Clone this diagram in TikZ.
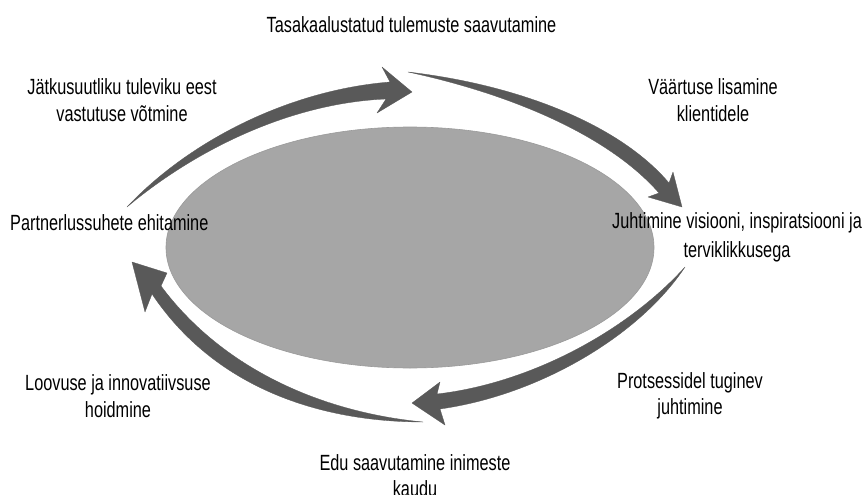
\documentclass[tikz,border=0pt]{standalone}
\usepackage{fontspec}
\setmainfont{Liberation Sans}[FakeStretch=0.74]
\definecolor{arrowgray}{HTML}{595959}
\definecolor{ellgray}{HTML}{A6A6A6}
\definecolor{elledge}{HTML}{9A9A9A}
\begin{document}
\begin{tikzpicture}[x=1pt,y=-1pt,
  lbl/.style={font=\fontsize{22}{26.5}\selectfont, align=center, inner sep=0pt, text=black},
  arr/.style={fill=arrowgray, draw=arrowgray, line width=0.3pt, line join=round}]
\useasboundingbox (0,0) rectangle (868,495);
\fill[white] (0,0) rectangle (868,495);
% central ellipse
\filldraw[fill=ellgray, draw=elledge, line width=0.6pt] (410,247.5) ellipse [x radius=244pt, y radius=120.5pt];
% arrow 1: top-left, heading right
\fill[arr] (127,207) .. controls (190,140) and (290,90) .. (390,82) -- (382,67) -- (412,92) -- (377,113) -- (386,99) .. controls (290,103) and (195,150) .. (127,207) -- cycle;
% arrow 2: top-right, heading down-right
\fill[arr] (408,72) .. controls (520,85) and (620,125) .. (669,183) -- (673,172) -- (682,207) -- (648,197) -- (659,193) .. controls (610,137) and (515,95) .. (408,72) -- cycle;
% arrow 3: bottom-right, heading left
\fill[arr] (685,267) .. controls (640,335) and (540,395) .. (440,409) -- (445,425) -- (412,403) -- (440,382) -- (437,394) .. controls (532,383) and (628,330) .. (685,267) -- cycle;
% arrow 4: bottom-left, heading up-left
\fill[arr] (423,422) .. controls (320,422) and (215,388) .. (152,294) -- (145,312) -- (132,262) -- (167,273) -- (161,286) .. controls (222,368) and (320,412) .. (423,422) -- cycle;
% labels
\node[lbl] (t1) at (411.5,25) {Tasakaalustatud tulemuste saavutamine};
\node[lbl] (t2) at (122,100) {Jätkusuutliku tuleviku eest\\vastutuse võtmine};
\node[lbl] (t3) at (713,100) {Väärtuse lisamine\\klientidele};
\node[lbl, anchor=west] (t4) at (10,223) {Partnerlussuhete ehitamine};
\node[lbl] (t5) at (737,237.5) {Juhtimine visiooni, inspiratsiooni ja\\[2pt]terviklikkusega};
\node[lbl] (t6) at (118,396) {Loovuse ja innovatiivsuse\\hoidmine};
\node[lbl] (t7) at (690,396) {Protsessidel tuginev\\juhtimine};
\node[lbl] (t8) at (415,475.5) {Edu saavutamine inimeste\\kaudu};
\end{tikzpicture}
\end{document}
